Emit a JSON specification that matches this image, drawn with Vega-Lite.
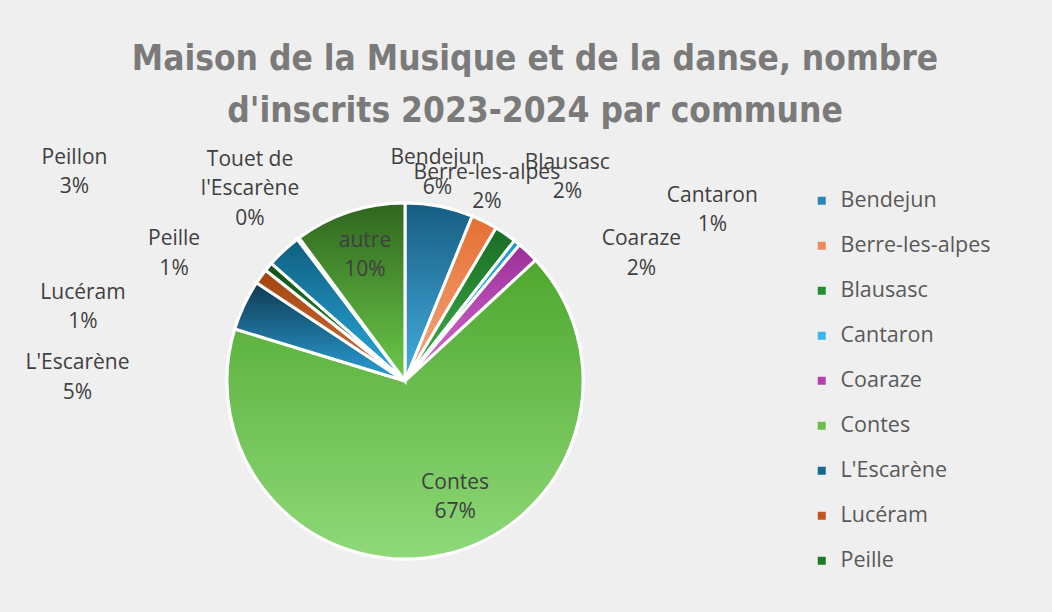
{
  "$schema": "https://vega.github.io/schema/vega-lite/v6.json",
  "width": 810,
  "height": 462,
  "autosize": {"type": "none"},
  "padding": {"left": 0, "top": 150, "right": 242, "bottom": 0},
  "background": "#efefef",
  "config": {"view": {"stroke": null}},
  "title": {
    "text": ["Maison de la Musique et de la danse, nombre", "d'inscrits 2023-2024 par commune"],
    "font": "Liberation Sans Narrow, DejaVu Sans Condensed, sans-serif",
    "fontSize": 35,
    "fontWeight": "bold",
    "color": "#7a7a7a",
    "anchor": "middle",
    "frame": "group",
    "dx": 130,
    "offset": 18,
    "lineHeight": 52
  },
  "data": {
    "values": [
      {"commune": "Bendejun", "n": 31, "idx": 0, "label": "Bendejun\n6%"},
      {"commune": "Berre-les-alpes", "n": 12, "idx": 1, "label": "Berre-les-alpes\n2%"},
      {"commune": "Blausasc", "n": 10, "idx": 2, "label": "Blausasc\n2%"},
      {"commune": "Cantaron", "n": 3, "idx": 3, "label": "Cantaron\n1%"},
      {"commune": "Coaraze", "n": 10, "idx": 4, "label": "Coaraze\n2%"},
      {"commune": "Contes", "n": 335, "idx": 5, "label": "Contes\n67%"},
      {"commune": "L'Escarène", "n": 23, "idx": 6, "label": "L'Escarène\n5%"},
      {"commune": "Lucéram", "n": 7, "idx": 7, "label": "Lucéram\n1%"},
      {"commune": "Peille", "n": 4, "idx": 8, "label": "Peille\n1%"},
      {"commune": "Peillon", "n": 16, "idx": 9, "label": "Peillon\n3%"},
      {"commune": "Touet de l'Escarène", "n": 1, "idx": 10, "label": "Touet de\nl'Escarène\n0%"},
      {"commune": "autre", "n": 51, "idx": 11, "label": "autre\n10%"}
    ]
  },
  "layer": [
    {
      "mark": {"type": "arc", "outerRadius": 178, "stroke": "white", "strokeWidth": 3},
      "encoding": {
        "theta": {"field": "n", "type": "quantitative", "stack": true},
        "order": {"field": "idx", "type": "quantitative", "sort": "ascending"},
        "color": {
          "field": "commune",
          "type": "nominal",
          "scale": {
            "domain": ["Bendejun", "Berre-les-alpes", "Blausasc", "Cantaron", "Coaraze", "Contes", "L'Escarène", "Lucéram", "Peille", "Peillon", "Touet de l'Escarène", "autre"],
            "range": ["#2a86b8", "#ee8a55", "#23902f", "#3ab4ec", "#b340b0", "#6ac04c", "#1a6692", "#c0561e", "#1d7a28", "#1b7eaa", "#8a8a8a", "#4a8a30"]
          },
          "legend": {
            "orient": "none",
            "legendX": 811,
            "legendY": 40,
            "title": null,
            "values": ["Bendejun", "Berre-les-alpes", "Blausasc", "Cantaron", "Coaraze", "Contes", "L'Escarène", "Lucéram", "Peille"],
            "symbolType": "square",
            "symbolSize": 64,
            "symbolStrokeWidth": 0,
            "labelFontSize": 21.5,
            "labelFont": "Open Sans",
            "labelColor": "#595959",
            "labelOffset": 8,
            "rowPadding": 22,
            "padding": 0
          }
        }
      }
    },
    {
      "mark": {"type": "arc", "outerRadius": 178, "stroke": "white", "strokeWidth": 3},
      "encoding": {
        "theta": {"field": "n", "type": "quantitative", "stack": true},
        "order": {"field": "idx", "type": "quantitative", "sort": "ascending"},
        "detail": {"field": "commune", "type": "nominal"},
        "color": {
          "condition": [
            {"test": "datum.commune === 'Bendejun'", "value": {"gradient": "linear", "x1": 0, "y1": 0, "x2": 0, "y2": 1, "stops": [{"offset": 0, "color": "#175d82"}, {"offset": 1, "color": "#46aee0"}]}},
            {"test": "datum.commune === 'Berre-les-alpes'", "value": {"gradient": "linear", "x1": 0, "y1": 0, "x2": 0, "y2": 1, "stops": [{"offset": 0, "color": "#e56f31"}, {"offset": 1, "color": "#f5a984"}]}},
            {"test": "datum.commune === 'Blausasc'", "value": {"gradient": "linear", "x1": 0, "y1": 0, "x2": 0, "y2": 1, "stops": [{"offset": 0, "color": "#1a6c24"}, {"offset": 1, "color": "#40b34c"}]}},
            {"test": "datum.commune === 'Cantaron'", "value": {"gradient": "linear", "x1": 0, "y1": 0, "x2": 0, "y2": 1, "stops": [{"offset": 0, "color": "#1a98d4"}, {"offset": 1, "color": "#60c7f0"}]}},
            {"test": "datum.commune === 'Coaraze'", "value": {"gradient": "linear", "x1": 0, "y1": 0, "x2": 0, "y2": 1, "stops": [{"offset": 0, "color": "#9a2e97"}, {"offset": 1, "color": "#d670d3"}]}},
            {"test": "datum.commune === 'Contes'", "value": {"gradient": "linear", "x1": 0, "y1": 0, "x2": 0, "y2": 1, "stops": [{"offset": 0, "color": "#4ea72e"}, {"offset": 1, "color": "#8fd979"}]}},
            {"test": "datum.commune === \"L'Escarène\"", "value": {"gradient": "linear", "x1": 0, "y1": 0, "x2": 0, "y2": 1, "stops": [{"offset": 0, "color": "#0f3a52"}, {"offset": 1, "color": "#2aa0d8"}]}},
            {"test": "datum.commune === 'Lucéram'", "value": {"gradient": "linear", "x1": 0, "y1": 0, "x2": 0, "y2": 1, "stops": [{"offset": 0, "color": "#a0440f"}, {"offset": 1, "color": "#d5723c"}]}},
            {"test": "datum.commune === 'Peille'", "value": {"gradient": "linear", "x1": 0, "y1": 0, "x2": 0, "y2": 1, "stops": [{"offset": 0, "color": "#124f1a"}, {"offset": 1, "color": "#2e9a3a"}]}},
            {"test": "datum.commune === 'Peillon'", "value": {"gradient": "linear", "x1": 0, "y1": 0, "x2": 0, "y2": 1, "stops": [{"offset": 0, "color": "#0f5f80"}, {"offset": 1, "color": "#2aaadf"}]}},
            {"test": "datum.commune === 'autre'", "value": {"gradient": "linear", "x1": 0, "y1": 0, "x2": 0, "y2": 1, "stops": [{"offset": 0, "color": "#2f651e"}, {"offset": 1, "color": "#6cca4a"}]}}
          ],
          "value": "#8a8a8a"
        }
      }
    },
    {
      "mark": {
        "type": "text",
        "font": "Open Sans",
        "fontSize": 21,
        "color": "#404040",
        "lineBreak": "\n",
        "lineHeight": 29.5,
        "align": "center",
        "baseline": "middle",
        "radius": {"expr": "datum.commune === 'Contes' ? 126 : datum.commune === 'autre' ? 131 : 215"},
        "dx": {"expr": "[-9, -14, 41, 172, 88, 22, -133, -148, -66, -184, -26, 1][datum.idx]"},
        "dy": {"expr": "[-12, -16, -41, -18, 14, -21, 74, 38, -4, -66, -49, -16][datum.idx]"}
      },
      "encoding": {
        "theta": {"field": "n", "type": "quantitative", "stack": true},
        "order": {"field": "idx", "type": "quantitative", "sort": "ascending"},
        "detail": {"field": "commune", "type": "nominal"},
        "text": {"field": "label", "type": "nominal"}
      }
    }
  ]
}
